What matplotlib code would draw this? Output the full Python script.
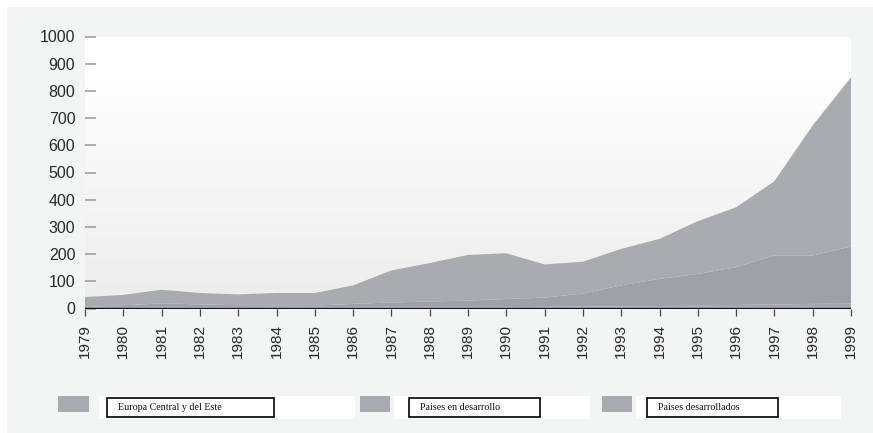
import numpy as np
import matplotlib
matplotlib.use('Agg')
import matplotlib.pyplot as plt
from matplotlib.patches import Rectangle

years = list(range(1979, 2000))
europa = [2, 2, 3, 3, 3, 3, 3, 3, 4, 4, 5, 5, 6, 7, 8, 9, 11, 13, 15, 17, 18]
desarrollo = [3, 10, 16, 12, 9, 8, 7, 14, 18, 22, 24, 30, 34, 48, 77, 100, 116, 139, 180, 178, 210]
desarrollados = [37, 38, 50, 42, 40, 46, 47, 68, 118, 141, 168, 168, 122, 117, 134, 147, 194, 220, 273, 478, 622]
labels = ['Europa Central y del Este', 'Paises en desarrollo', 'Paises desarrollados']
colores = ['#a6a7aa', '#a0a1a4', '#aaabae']

W, H = 873, 433
plt.rcParams['font.family'] = ['Liberation Sans', 'DejaVu Sans']
fig = plt.figure(figsize=(W / 100, H / 100), dpi=100, facecolor='white')


def caja(x0, y0, x1, y1, **kw):
    # rectangulo en pixeles de la figura
    fig.add_artist(Rectangle((x0 / W, 1 - y1 / H), (x1 - x0) / W, (y1 - y0) / H,
                             transform=fig.transFigure, **kw))


caja(7, 7, 873, 433, facecolor='#f3f4f4', edgecolor='none', zorder=0)

ax = fig.add_axes([85 / W, 1 - 308.5 / H, (851 - 85) / W, (308.5 - 36.5) / H])
ax.set_facecolor('none')
for s in ax.spines.values():
    s.set_visible(False)

# fondo degradado (blanco arriba, gris claro abajo)
grad = np.linspace(0, 1, 256).reshape(-1, 1)
grad = np.clip((grad - 0.12) / 0.88, 0, 1)
cm = matplotlib.colors.LinearSegmentedColormap.from_list('g', ['#ffffff', '#f6f6f6', '#ececec'])
ax.imshow(grad, aspect='auto', cmap=cm, origin='upper',
          extent=(1979, 1999, 0, 1000), zorder=0)

ax.stackplot(years, europa, desarrollo, desarrollados, colors=colores, zorder=2, linewidth=0)
ax.axhline(0, color='#111111', lw=2.3, zorder=5)

ax.set_xlim(1979, 1999)
ax.set_ylim(0, 1000)
ax.set_xticks(years)
ax.set_xticklabels([str(y) for y in years], rotation=90, fontsize=11, color='#2a2a2a')
ax.set_yticks(range(0, 1001, 100))
ax.tick_params(axis='x', direction='out', length=5, width=0.9, color='#444444', pad=6)
ax.tick_params(axis='y', direction='in', length=8, width=1.1, color='#999999', pad=7,
               labelsize=11.5, labelcolor='#2a2a2a')

# leyenda
cajas_blancas = [(99, 355), (394, 590), (636, 841)]
cuadros = [(58, 89), (360, 390), (602, 632)]
marcos = [(107, 274), (409, 540), (647, 778)]
for i in range(3):
    caja(cajas_blancas[i][0], 396, cajas_blancas[i][1], 419, facecolor='white', edgecolor='none', zorder=1)
    caja(cuadros[i][0], 396, cuadros[i][1], 412, facecolor=colores[2], edgecolor='none', zorder=2)
    caja(marcos[i][0], 398, marcos[i][1], 417, facecolor='white', edgecolor='black', linewidth=1.2, zorder=2)
    fig.text((marcos[i][0] + 11) / W, 1 - 407.5 / H, labels[i], fontsize=7.2, family='Liberation Serif',
             va='center', ha='left', color='#111111', zorder=3)

fig.savefig('out.png', dpi=100, facecolor=fig.get_facecolor())
